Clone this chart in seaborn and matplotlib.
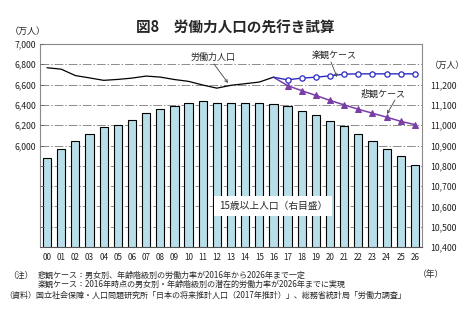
import numpy as np
import pandas as pd
import matplotlib
matplotlib.use("Agg")
import matplotlib.pyplot as plt
import seaborn as sns

# ---- data ----
years = ['00', '01', '02', '03', '04', '05', '06', '07', '08', '09', '10', '11', '12',
         '13', '14', '15', '16', '17', '18', '19', '20', '21', '22', '23', '24', '25', '26']
pop15 = [10836, 10884, 10924, 10958, 10989, 11002, 11028, 11059, 11082, 11095, 11108,
         11117, 11108, 11108, 11108, 11108, 11105, 11093, 11072, 11051, 11020, 10994,
         10958, 10924, 10884, 10847, 10802]
labor_years = years[:17]
labor = [6766, 6752, 6689, 6666, 6642, 6651, 6664, 6684, 6674, 6650, 6632, 6596, 6565,
         6593, 6609, 6625, 6673]
fcst_years = years[16:]
optimistic = [6673, 6647, 6664, 6673, 6686, 6703, 6706, 6706, 6706, 6706, 6706]
pessimistic = [6673, 6590, 6540, 6493, 6444, 6400, 6357, 6318, 6279, 6238, 6206]
right_ticks = [10400, 10500, 10600, 10700, 10800, 10900, 11000, 11100, 11200, 11300]
right_labels = ['10,400', '10,500', '10,600', '10,700', '10,800', '10,900', '11,000',
                '11,100', '11,200', '（万人）']
left_labels = ['6,000', '6,200', '6,400', '6,600', '6,800', '7,000']

sns.set_style("white")
plt.rcParams['font.family'] = ['Noto Sans CJK JP', 'DejaVu Sans']

W, H = 468, 327
fig = plt.figure(figsize=(W / 100, H / 100), dpi=100)
ax = fig.add_axes([40 / W, 1 - 247 / H, (422 - 40) / W, (247 - 44) / H])
ax2 = ax.twinx()

pos = {y: i for i, y in enumerate(years)}

# bars (right scale) on main axes
df_bar = pd.DataFrame({'year': years, 'pop': pop15})
sns.barplot(data=df_bar, x='year', y='pop', ax=ax, color='#b8dfe9', saturation=1,
            edgecolor='black', linewidth=0.8, width=0.58, zorder=2)
ax.set_ylim(10400, 11400)
ax.set_xlim(-0.5, len(years) - 0.5)
ax.set_yticks(right_ticks)
ax.set_yticklabels(right_labels)
ax.set_xlabel('')
ax.set_ylabel('')
ax.tick_params(axis='x', which='major', length=0, pad=4, labelsize=5.8, colors='#222222')
ax.set_xticks(np.arange(len(years)) - 0.5, minor=True)
ax.tick_params(axis='x', which='minor', length=3, width=0.6, color='#666666', direction='out')
ax.set_axisbelow(True)
ax.yaxis.grid(True, color='#8c8c8c', linewidth=0.7, linestyle=(0, (9, 2, 1.5, 2)), zorder=0)
for s in ax.spines.values():
    s.set_color('#8a8a8a')
    s.set_linewidth(0.8)
ax.spines['bottom'].set_color('#555555')

# lines (left scale) on twin axes
lx = [pos[y] for y in labor_years]
fx = [pos[y] for y in fcst_years]
sns.lineplot(x=lx, y=labor, ax=ax2, color='black', linewidth=0.9)
sns.lineplot(x=fx, y=pessimistic, ax=ax2, color='#7a3fa6', linewidth=1.1,
             marker='^', markersize=4.2, markerfacecolor='#7a3fa6',
             markeredgecolor='#7a3fa6', markevery=list(range(1, len(fx))))
sns.lineplot(x=fx, y=optimistic, ax=ax2, color='#2b2bc4', linewidth=1.0,
             marker='o', markersize=3.8, markerfacecolor='white',
             markeredgecolor='#2b2bc4', markeredgewidth=0.9,
             markevery=list(range(1, len(fx))))
ax2.set_xlim(-0.5, len(years) - 0.5)
ax2.set_ylabel('')
ax2.set_ylim(5000, 7000)
ax2.set_yticks(list(range(5000, 7001, 200)))
ax2.set_yticklabels(['' for _ in range(5000, 6000, 200)] + left_labels)
for s in ax2.spines.values():
    s.set_visible(False)

# axis sides: bars' scale on the right, lines' scale on the left
ax.yaxis.tick_right()
ax.yaxis.set_label_position('right')
ax2.yaxis.tick_left()
ax2.yaxis.set_label_position('left')
ax.tick_params(axis='y', which='major', length=0, pad=6, labelsize=6.3,
               colors='#222222', left=False, labelleft=False, right=False, labelright=True)
ax2.tick_params(axis='y', length=3, direction='in', width=0.6, color='#666666',
                pad=3, labelsize=6.3, labelcolor='#222222',
                left=True, labelleft=True, right=False, labelright=False)

# annotations (figure pixel coordinates)
def fp(x, y):
    return (x, H - y)

arrow = dict(arrowstyle='->', color='#444444', lw=0.6, shrinkA=0, shrinkB=0,
             mutation_scale=5)
ax2.annotate('労働力人口', xy=fp(213, 57), xycoords='figure pixels',
             ha='center', va='center', fontsize=6.5)
ax2.annotate('', xy=fp(228, 83), xycoords='figure pixels',
             xytext=fp(214, 64), textcoords='figure pixels', arrowprops=arrow)
ax2.annotate('楽観ケース', xy=fp(334, 55), xycoords='figure pixels',
             ha='center', va='center', fontsize=6.5)
ax2.annotate('', xy=fp(337, 77), xycoords='figure pixels',
             xytext=fp(331, 62), textcoords='figure pixels', arrowprops=arrow)
ax2.annotate('悲観ケース', xy=fp(383, 94), xycoords='figure pixels',
             ha='center', va='center', fontsize=6.5)
ax2.annotate('', xy=fp(387, 114), xycoords='figure pixels',
             xytext=fp(395, 100), textcoords='figure pixels', arrowprops=arrow)

fig.text(273 / W, 1 - 206 / H, '15歳以上人口（右目盛）', ha='center', va='center',
         fontsize=7, bbox=dict(facecolor='white', edgecolor='none', pad=3.5))

# titles and notes
fig.text(235 / W, 1 - 28 / H, '図8　労働力人口の先行き試算', ha='center', va='center',
         fontsize=10.5, fontweight='bold')
fig.text(10 / W, 1 - 31 / H, '（万人）', ha='left', va='center', fontsize=6.5)
fig.text(8 / W, 1 - 275 / H, '（注）', ha='left', va='center', fontsize=6)
fig.text(38 / W, 1 - 275 / H,
         '悲観ケース：男女別、年齢階級別の労働力率が2016年から2026年まで一定',
         ha='left', va='center', fontsize=5.8)
fig.text(38 / W, 1 - 284 / H,
         '楽観ケース：2016年時点の男女別・年齢階級別の潜在的労働力率が2026年までに実現',
         ha='left', va='center', fontsize=5.8)
fig.text(418 / W, 1 - 274 / H, '（年）', ha='left', va='center', fontsize=6.3)
fig.text(4 / W, 1 - 295 / H,
         '（資料）国立社会保障・人口問題研究所「日本の将来推計人口（2017年推計）」、総務省統計局「労働力調査」',
         ha='left', va='center', fontsize=5.8)

fig.savefig('out.png', dpi=100)
